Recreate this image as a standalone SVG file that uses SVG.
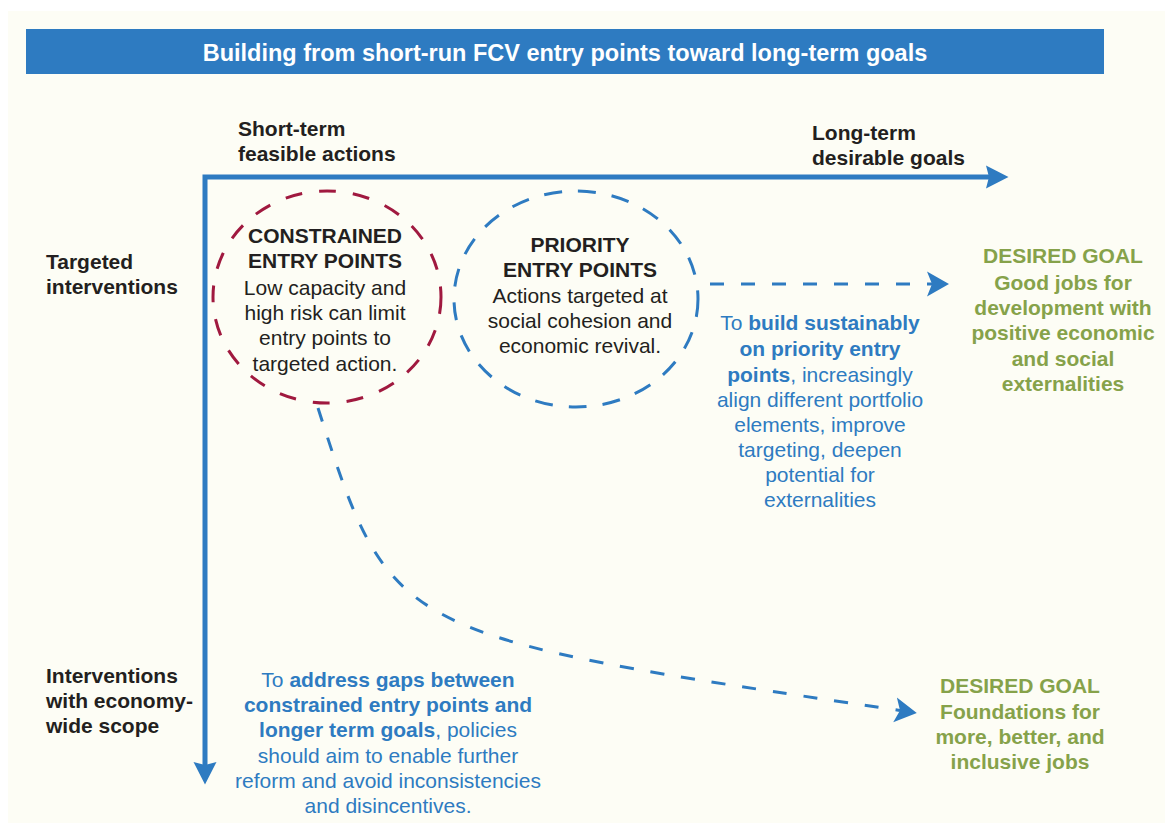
<svg xmlns="http://www.w3.org/2000/svg" width="1165" height="823" viewBox="0 0 1165 823">
<style>
text{font-family:"Liberation Sans",Arial,sans-serif;font-size:21px}
.dark{fill:#231F20}
.b{font-weight:bold}
.blue{fill:#2E7BC1}
.green{fill:#86A24A;font-weight:bold}
.title{fill:#FFFFFF;font-weight:bold;font-size:23.5px}
.mid{text-anchor:middle}
.axis{fill:none;stroke:#2E7BC1;stroke-width:5}
.dash{fill:none;stroke:#2E7BC1;stroke-width:3;stroke-dasharray:14 17}
</style>
<defs>
<marker id="axisHead" markerUnits="userSpaceOnUse" markerWidth="24" markerHeight="24" viewBox="0 0 24 24" refX="4" refY="12" orient="auto-start-reverse">
<path d="M0,0.5 L22.5,12 L0,23.5 L3,12 Z" fill="#2E7BC1"/>
</marker>
<marker id="dashHead" markerUnits="userSpaceOnUse" markerWidth="24" markerHeight="26" viewBox="0 0 24 26" refX="5" refY="13" orient="auto">
<path d="M0,0.5 L22,13 L0,25.5 L5,13 Z" fill="#2E7BC1"/>
</marker>
</defs>
<rect x="0" y="0" width="1165" height="823" fill="#FFFFFF"/>
<rect x="8" y="11" width="1157" height="812" fill="#FDFDF5"/>
<g id="title">
<rect x="26" y="29" width="1078" height="45" fill="#2E7BC1"/>
<text class="title mid" x="565" y="61">Building from short-run FCV entry points toward long-term goals</text>
</g>
<g id="connectors">
<path class="axis" d="M205,766 L205,177 L990,177" marker-start="url(#axisHead)" marker-end="url(#axisHead)"/>
<path class="dash" d="M710,284 L932,284" marker-end="url(#dashHead)"/>
<path class="dash" d="M318,408 C391,635 391,635 900,710.5" marker-end="url(#dashHead)"/>
</g>
<g id="label-short-term">
<text class="dark b" x="238" y="136">Short-term</text>
<text class="dark b" x="238" y="161">feasible actions</text>
</g>
<g id="label-long-term">
<text class="dark b" x="812" y="140">Long-term</text>
<text class="dark b" x="812" y="165">desirable goals</text>
</g>
<g id="label-targeted">
<text class="dark b" x="46" y="269">Targeted</text>
<text class="dark b" x="46" y="294">interventions</text>
</g>
<g id="label-economy-wide">
<text class="dark b" x="46" y="683">Interventions</text>
<text class="dark b" x="46" y="708">with economy-</text>
<text class="dark b" x="46" y="733">wide scope</text>
</g>
<g id="constrained-entry-points">
<ellipse cx="327" cy="297" rx="114" ry="106" fill="none" stroke="#A0193F" stroke-width="3" stroke-dasharray="17 17"/>
<text class="dark b mid" x="325" y="243">CONSTRAINED</text>
<text class="dark b mid" x="325" y="268">ENTRY POINTS</text>
<text class="dark mid" x="325" y="295">Low capacity and</text>
<text class="dark mid" x="325" y="320">high risk can limit</text>
<text class="dark mid" x="325" y="345">entry points to</text>
<text class="dark mid" x="325" y="371">targeted action.</text>
</g>
<g id="priority-entry-points">
<ellipse cx="576" cy="299" rx="122" ry="108" fill="none" stroke="#2E7BC1" stroke-width="3" stroke-dasharray="18 16"/>
<text class="dark b mid" x="580" y="252">PRIORITY</text>
<text class="dark b mid" x="580" y="277">ENTRY POINTS</text>
<text class="dark mid" x="580" y="303">Actions targeted at</text>
<text class="dark mid" x="580" y="328">social cohesion and</text>
<text class="dark mid" x="580" y="353">economic revival.</text>
</g>
<g id="build-sustainably">
<text class="blue mid" x="820" y="330">To <tspan class="b">build sustainably</tspan></text>
<text class="blue mid b" x="820" y="356">on priority entry</text>
<text class="blue mid" x="820" y="382"><tspan class="b">points</tspan>, increasingly</text>
<text class="blue mid" x="820" y="407">align different portfolio</text>
<text class="blue mid" x="820" y="432">elements, improve</text>
<text class="blue mid" x="820" y="457">targeting, deepen</text>
<text class="blue mid" x="820" y="482">potential for</text>
<text class="blue mid" x="820" y="507">externalities</text>
</g>
<g id="goal-good-jobs">
<text class="green mid" x="1063" y="263">DESIRED GOAL</text>
<text class="green mid" x="1063" y="290">Good jobs for</text>
<text class="green mid" x="1063" y="315">development with</text>
<text class="green mid" x="1063" y="340">positive economic</text>
<text class="green mid" x="1063" y="366">and social</text>
<text class="green mid" x="1063" y="391">externalities</text>
</g>
<g id="address-gaps">
<text class="blue mid" x="388" y="687">To <tspan class="b">address gaps between</tspan></text>
<text class="blue mid b" x="388" y="712">constrained entry points and</text>
<text class="blue mid" x="388" y="737"><tspan class="b">longer term goals</tspan>, policies</text>
<text class="blue mid" x="388" y="763">should aim to enable further</text>
<text class="blue mid" x="388" y="788">reform and avoid inconsistencies</text>
<text class="blue mid" x="388" y="813">and disincentives.</text>
</g>
<g id="goal-foundations">
<text class="green mid" x="1020" y="693">DESIRED GOAL</text>
<text class="green mid" x="1020" y="719">Foundations for</text>
<text class="green mid" x="1020" y="744">more, better, and</text>
<text class="green mid" x="1020" y="769">inclusive jobs</text>
</g>
</svg>
